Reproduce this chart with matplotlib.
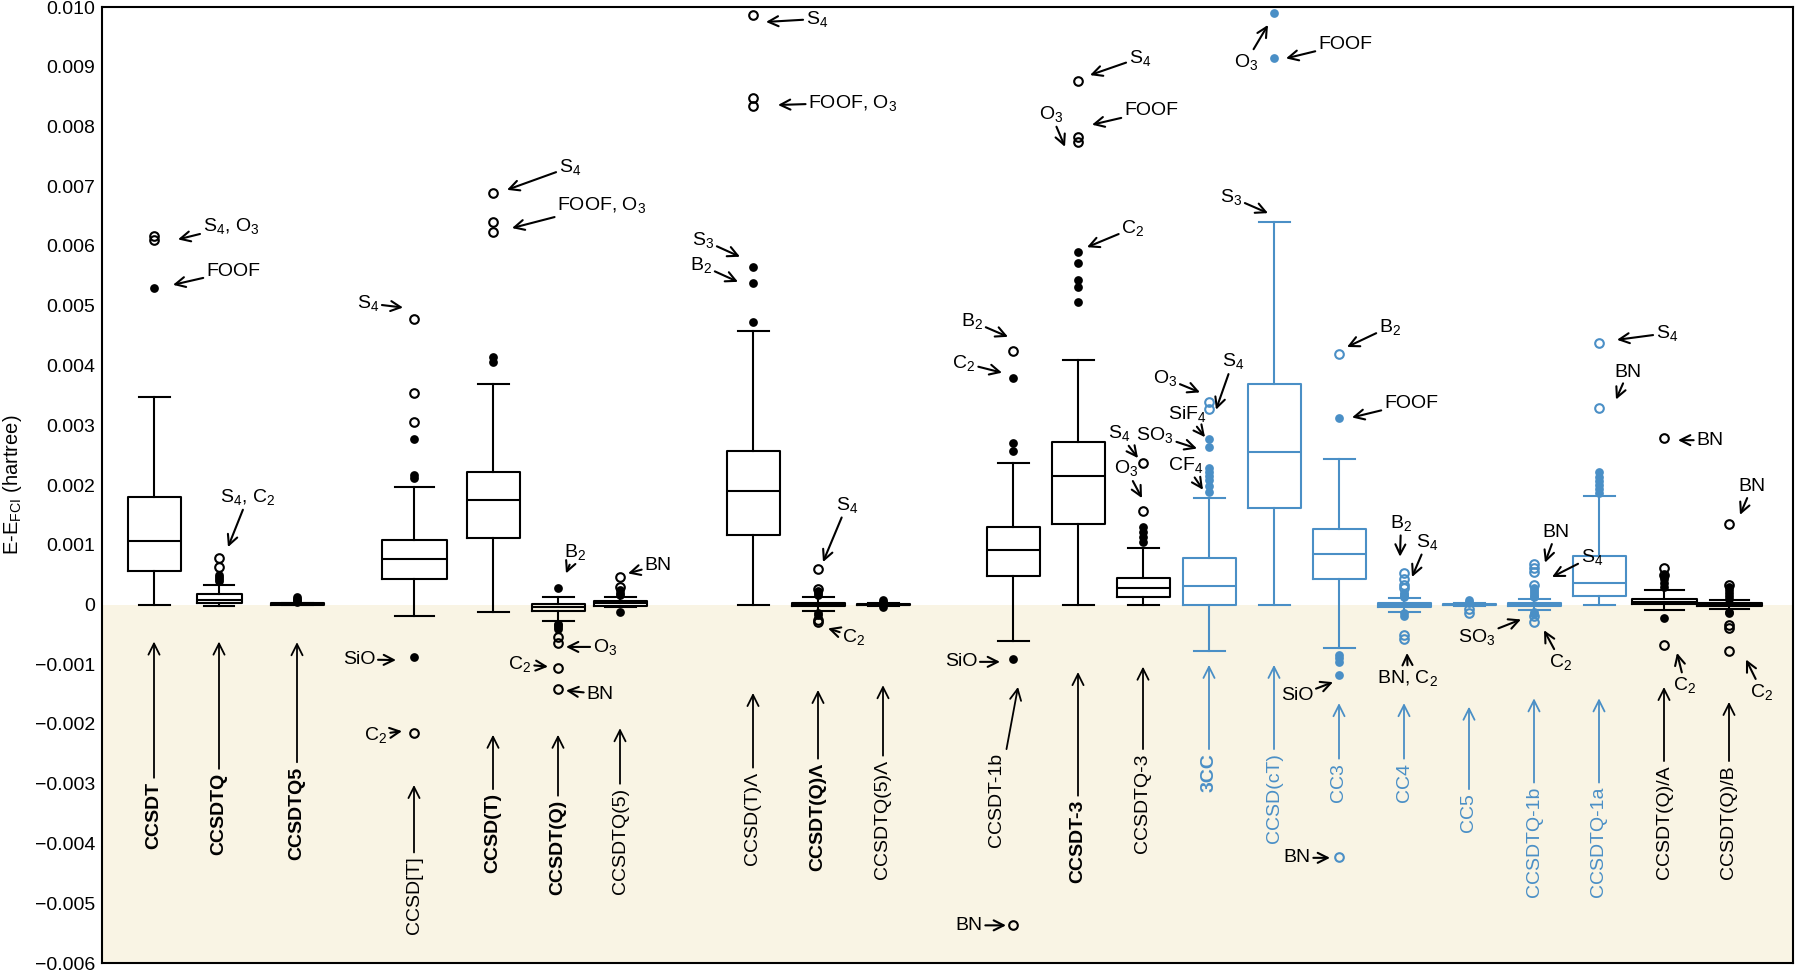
import matplotlib
matplotlib.use("Agg")
import matplotlib.pyplot as plt

plt.rcParams['font.family'] = ['Liberation Sans', 'DejaVu Sans']
plt.rcParams['mathtext.fontset'] = 'custom'
plt.rcParams['mathtext.rm'] = 'Liberation Sans'
plt.rcParams['mathtext.it'] = 'Liberation Sans:italic'
plt.rcParams['mathtext.bf'] = 'Liberation Sans:bold'
plt.rcParams['mathtext.default'] = 'regular'

BLACK = '#000000'
BLUE = '#4a8fc6'
SHADE = '#f9f4e4'

# ---------------- data ----------------
methods = ["CCSDT", "CCSDTQ", "CCSDTQ5", "CCSD[T]", "CCSD(T)", "CCSDT(Q)", "CCSDTQ(5)",
           "CCSD(T)Λ", "CCSDT(Q)Λ", "CCSDTQ(5)Λ", "CCSDT-1b", "CCSDT-3", "CCSDTQ-3",
           "3CC", "CCSD(cT)", "CC3", "CC4", "CC5", "CCSDTQ-1b", "CCSDTQ-1a",
           "CCSDT(Q)/A", "CCSDT(Q)/B"]
bold = [1, 1, 1, 0, 1, 1, 0, 0, 1, 0, 0, 1, 0, 1, 0, 0, 0, 0, 0, 0, 0, 0]
group = ['k'] * 13 + ['b'] * 7 + ['k'] * 2

q1 = [0.00056, 0.00002, 0.0, 0.00043, 0.00112, -0.00011, -0.00002, 0.00117, -0.00003,
      -0.00001, 0.00047, 0.00134, 0.00012, 0.0, 0.00161, 0.00043, -0.00004, -0.00001,
      -0.00003, 0.00015, 0.00001, -0.00002]
med = [0.00107, 0.00008, 0.00001, 0.00076, 0.00175, -0.00004, 0.00003, 0.0019, 0.0,
       0.0, 0.00092, 0.00215, 0.00027, 0.00031, 0.00255, 0.00085, 0.0, 0.0,
       0.0, 0.000365, 0.00004, 0.00001]
q3 = [0.0018, 0.00017, 0.00002, 0.00108, 0.00221, 0.00001, 0.00006, 0.00257, 0.00003,
      0.00001, 0.0013, 0.00272, 0.00045, 0.00077, 0.00369, 0.00127, 0.00003, 0.00001,
      0.00003, 0.00082, 0.00009, 0.00003]
whislo = [0.0, -0.00002, -0.00001, -0.0002, -0.00012, -0.00028, -0.00004, 0.0, -0.00011,
          -0.00002, -0.00061, 0.0, 0.0, -0.00078, 0.0, -0.00072, -0.00012, -0.00002,
          -0.0001, 0.0, -0.0001, -0.00008]
whishi = [0.00347, 0.00033, 0.00003, 0.00196, 0.00369, 0.00013, 0.00013, 0.00458, 0.00012,
          0.00002, 0.00237, 0.00409, 0.00095, 0.00178, 0.0064, 0.00244, 0.00011, 0.00002,
          0.0001, 0.00182, 0.00024, 0.00008]

filled_fliers = [
    [0.0053],
    [0.0004, 0.00043, 0.00046, 0.00049],
    [0.00005, 0.00007, 0.0001, 0.00012],
    [0.00211, 0.00216, 0.00277, -0.00088],
    [0.00406, 0.00414],
    [0.00027, -0.00032, -0.00035, -0.00038, -0.00041],
    [0.00016, 0.0002, 0.00024, -0.00012],
    [0.00473, 0.00538, 0.00565],
    [0.00016, 0.00019, 0.00022, -0.00015, -0.00018],
    [0.00003, 0.00005, 0.00007, -0.00004],
    [0.00257, 0.0027, 0.00379, -0.00091],
    [0.00506, 0.00531, 0.00543, 0.00572, 0.0059],
    [0.00104, 0.00113, 0.00121, 0.00129],
    [0.00188, 0.00198, 0.00208, 0.00215, 0.00222, 0.00228, 0.00264, 0.00277],
    [0.00914, 0.0099],
    [0.00312, -0.00085, -0.0009, -0.00096, -0.00118],
    [0.00012, 0.00015, 0.00018, 0.0002, -0.00015, -0.00019],
    [0.00003, 0.00005, 0.00007],
    [0.00012, 0.00015, 0.00018, 0.00021, 0.00024, 0.00027, -0.00013, -0.00016],
    [0.00186, 0.00193, 0.002, 0.00207, 0.00214, 0.00222],
    [0.0003, 0.00036, 0.00042, 0.00047, -0.00022],
    [0.0001, 0.00015, 0.0002, 0.00025, 0.0003, -0.00012, -0.00015],
]
open_fliers = [
    [0.0061, 0.00617],
    [0.00063, 0.00078],
    [],
    [0.00305, 0.00354, 0.00478, -0.00215],
    [0.00624, 0.0064, 0.00689],
    [-0.00054, -0.00065, -0.00106, -0.00141],
    [0.00029, 0.00046],
    [0.00834, 0.00848, 0.00987],
    [0.00026, 0.00059, -0.00026, -0.00029],
    [],
    [0.00424, -0.00537],
    [0.00774, 0.00783, 0.00876],
    [0.00156, 0.00237],
    [0.00327, 0.00339],
    [],
    [0.00419, -0.00423],
    [0.00027, 0.00033, 0.00043, 0.00053, -0.00051, -0.00058],
    [-0.00008, -0.00014],
    [0.00032, 0.00054, 0.00061, 0.00067, -0.0002, -0.00029],
    [0.00329, 0.00438],
    [0.00049, 0.00061, 0.00278, -0.00067],
    [0.00033, 0.00135, -0.00035, -0.0004, -0.00078],
]

yticks = [-0.006, -0.005, -0.004, -0.003, -0.002, -0.001, 0.0, 0.001, 0.002, 0.003,
          0.004, 0.005, 0.006, 0.007, 0.008, 0.009, 0.010]
ytick_labels = ["−0.006", "−0.005", "−0.004", "−0.003", "−0.002", "−0.001", "0",
                "0.001", "0.002", "0.003", "0.004", "0.005", "0.006", "0.007",
                "0.008", "0.009", "0.010"]
ylabel = "E-E$_{\\mathrm{FCI}}$ (hartree)"

# ---------------- layout ----------------
positions = [154, 219, 297, 414, 493, 558, 620, 753, 818, 883, 1013, 1078, 1143,
             1209, 1274, 1339, 1404, 1469, 1534, 1599, 1664, 1729]
widths = [53, 45, 53, 65, 53, 53, 53, 53, 53, 53, 53, 53, 53,
          53, 53, 53, 53, 53, 53, 53, 65, 65]
capw = [31, 30, 31, 39, 31, 31, 31, 31, 31, 31, 31, 31, 31,
        31, 31, 31, 31, 31, 31, 31, 39, 39]

# bottom label layout: text top (y), arrow tip (y), text x offset
label_top = [-0.00297, -0.00282, -0.00271, -0.00422, -0.00316, -0.00327, -0.00307,
             -0.0028, -0.00265, -0.0026, -0.00249, -0.00327, -0.00249, -0.00249,
             -0.00249, -0.00265, -0.00265, -0.00316, -0.00305, -0.00305, -0.00269, -0.00269]
label_tip = [-0.00062, -0.00062, -0.00063, -0.00302, -0.00218, -0.00218, -0.00207,
             -0.00148, -0.00143, -0.00135, -0.00138, -0.00113, -0.00104, -0.00101,
             -0.00101, -0.00165, -0.00165, -0.00171, -0.00157, -0.00157, -0.00138, -0.00163]
label_dx = [0] * 22
label_dx[10] = -16  # CCSDT-1b text shifted left, arrow slanted
tip_dx = [0] * 22
tip_dx[10] = 5

# outlier annotations: text, tip x, tip y, text x, text y
notes = [
    ("S$_4$, O$_3$", 178, 0.00611, 231, 0.00633),
    ("FOOF", 173, 0.00535, 233, 0.00558),
    ("S$_4$, C$_2$", 228, 0.00096, 248, 0.0018),
    ("S$_4$", 403, 0.00497, 368, 0.00504),
    ("SiO", 396, -0.00093, 359, -0.00092),
    ("C$_2$", 402, -0.00212, 376, -0.00218),
    ("S$_4$", 507, 0.00694, 570, 0.00732),
    ("FOOF, O$_3$", 512, 0.0063, 602, 0.00669),
    ("B$_2$", 566, 0.00052, 575, 0.00088),
    ("O$_3$", 566, -0.00071, 605, -0.00071),
    ("C$_2$", 548, -0.00104, 520, -0.001),
    ("BN", 566, -0.00144, 600, -0.0015),
    ("BN", 628, 0.00052, 658, 0.00066),
    ("S$_4$", 766, 0.00975, 817, 0.0098),
    ("FOOF, O$_3$", 778, 0.00836, 853, 0.0084),
    ("S$_3$", 740, 0.00582, 703, 0.0061),
    ("B$_2$", 738, 0.0054, 701, 0.00568),
    ("S$_4$", 823, 0.00071, 847, 0.00167),
    ("C$_2$", 828, -0.0004, 854, -0.00054),
    ("B$_2$", 1008, 0.00448, 972, 0.00474),
    ("C$_2$", 1002, 0.00388, 964, 0.00404),
    ("SiO", 1000, -0.00096, 961, -0.00096),
    ("BN", 1006, -0.00537, 969, -0.00537),
    ("S$_4$", 1090, 0.00886, 1140, 0.00915),
    ("FOOF", 1092, 0.00803, 1151, 0.00826),
    ("O$_3$", 1065, 0.00766, 1051, 0.00821),
    ("C$_2$", 1087, 0.00598, 1133, 0.0063),
    ("S$_4$", 1138, 0.00245, 1119, 0.00287),
    ("O$_3$", 1142, 0.00178, 1126, 0.00228),
    ("O$_3$", 1200, 0.00355, 1165, 0.00379),
    ("S$_4$", 1216, 0.00326, 1233, 0.00407),
    ("SiF$_4$", 1205, 0.0028, 1187, 0.00319),
    ("SO$_3$", 1197, 0.00261, 1155, 0.00284),
    ("CF$_4$", 1203, 0.00192, 1186, 0.00234),
    ("O$_3$", 1268, 0.0097, 1246, 0.00908),
    ("FOOF", 1286, 0.00914, 1345, 0.00938),
    ("S$_3$", 1268, 0.00655, 1231, 0.00682),
    ("B$_2$", 1347, 0.00431, 1390, 0.00465),
    ("FOOF", 1352, 0.00313, 1411, 0.00337),
    ("SiO", 1333, -0.0013, 1297, -0.00153),
    ("BN", 1330, -0.00424, 1297, -0.00424),
    ("B$_2$", 1400, 0.0008, 1401, 0.00137),
    ("S$_4$", 1412, 0.00046, 1427, 0.00105),
    ("BN, C$_2$", 1407, -0.00081, 1408, -0.00123),
    ("BN", 1545, 0.0007, 1556, 0.0012),
    ("S$_4$", 1552, 0.00046, 1592, 0.0008),
    ("SO$_3$", 1521, -0.00025, 1477, -0.00054),
    ("C$_2$", 1544, -0.00043, 1561, -0.00096),
    ("S$_4$", 1617, 0.00443, 1667, 0.00454),
    ("BN", 1616, 0.00343, 1628, 0.00389),
    ("BN", 1678, 0.00275, 1710, 0.00275),
    ("C$_2$", 1677, -0.00081, 1685, -0.00135),
    ("BN", 1740, 0.0015, 1752, 0.00197),
    ("C$_2$", 1746, -0.00092, 1762, -0.00146),
]

# ---------------- figure ----------------
W, H = 1796, 973
fig = plt.figure(figsize=(W / 100, H / 100), dpi=100)
ax = fig.add_axes([102 / W, 1 - 963 / H, (1793 - 102) / W, 956 / H])
ax.set_xlim(102, 1793)
ax.set_ylim(-0.006, 0.010)
ax.axhspan(-0.006, 0.0, color=SHADE, zorder=0, lw=0)

FS = 14
LW = 1.5

for i, name in enumerate(methods):
    col = BLUE if group[i] == 'b' else BLACK
    st = [dict(med=med[i], q1=q1[i], q3=q3[i], whislo=whislo[i], whishi=whishi[i],
               fliers=[])]
    lp = dict(color=col, linewidth=LW)
    ax.bxp(st, positions=[positions[i]], widths=[widths[i]], capwidths=[capw[i]],
           showfliers=False, boxprops=lp, whiskerprops=lp, capprops=lp,
           medianprops=lp, manage_ticks=False, zorder=3)
    if filled_fliers[i]:
        ax.plot([positions[i]] * len(filled_fliers[i]), filled_fliers[i], 'o',
                ms=6.3, mfc=col, mec=col, mew=0, zorder=4)
    if open_fliers[i]:
        ax.plot([positions[i]] * len(open_fliers[i]), open_fliers[i], 'o',
                ms=6.2, mfc='none', mec=col, mew=1.5, zorder=4)
    # bottom label with arrow
    ax.annotate(name, xy=(positions[i] + tip_dx[i], label_tip[i]),
                xytext=(positions[i] + label_dx[i], label_top[i]),
                rotation=90, ha='center', va='top', fontsize=FS, color=col,
                fontweight='bold' if bold[i] else 'normal', zorder=5,
                arrowprops=dict(arrowstyle='->', color=col, lw=1.3,
                                mutation_scale=20, shrinkA=1, shrinkB=0))

for txt, tx, ty, lx, ly in notes:
    ax.annotate(txt, xy=(tx, ty), xytext=(lx, ly), ha='center', va='center',
                fontsize=FS, color=BLACK, zorder=6,
                arrowprops=dict(arrowstyle='->', color=BLACK, lw=1.5,
                                mutation_scale=18, shrinkA=0, shrinkB=0))

ax.set_yticks(yticks)
ax.set_yticklabels(ytick_labels, fontsize=FS)
ax.set_xticks([])
ax.tick_params(axis='y', length=0, pad=5)
ax.set_ylabel(ylabel, fontsize=14.5, labelpad=8)
for sp in ax.spines.values():
    sp.set_linewidth(1.5)
    sp.set_zorder(7)

fig.savefig("out.png", dpi=100)
